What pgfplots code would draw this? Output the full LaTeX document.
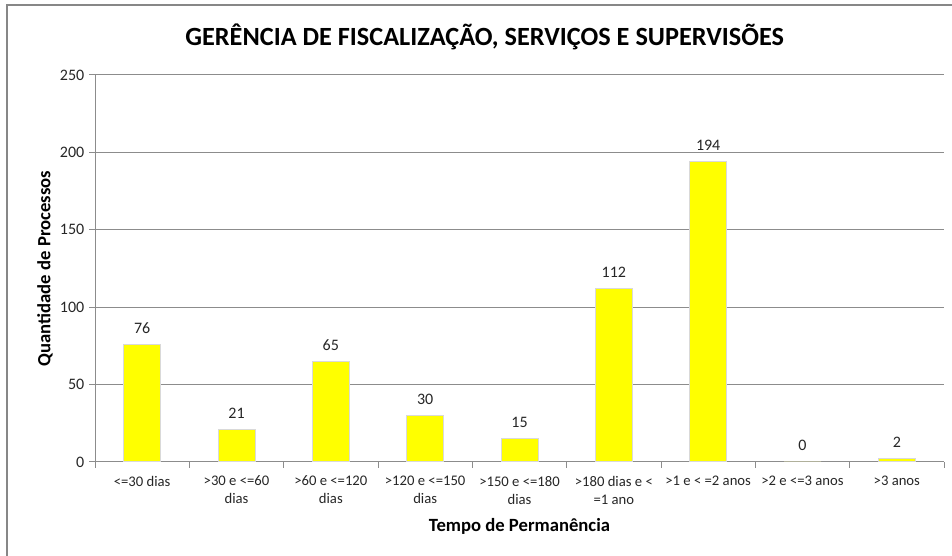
\documentclass[border=0pt]{standalone}
\usepackage{pgfplots}
\pgfplotsset{compat=1.18}
\usepackage{fontspec}
\setmainfont{Carlito}
\definecolor{gridgray}{HTML}{8C8C8C}
\definecolor{framegray}{HTML}{878787}
\definecolor{baryellow}{HTML}{FFFF00}
\begin{document}
\begin{tikzpicture}
\useasboundingbox (0,0) rectangle (714pt,417pt);
\draw[framegray, line width=1.5pt] (5pt,0pt) -- (5pt,413.25pt) -- (714pt,413.25pt);
\begin{axis}[
  at={(71.25pt,70.5pt)}, anchor=south west,
  scale only axis, width=636.75pt, height=290.25pt,
  xmin=-0.5, xmax=8.5, ymin=0, ymax=250,
  ytick={0,50,100,150,200,250},
  xtick={0,...,8},
  xticklabels={{<=30 dias},{>30 e <=60\\dias},{>60 e <=120\\dias},{>120 e <=150\\dias},{>150 e <=180\\dias},{>180 dias e <\\=1 ano},{>1 e < =2 anos},{>2 e <=3 anos},{>3 anos}},
  xticklabel style={align=center, font=\fontsize{11pt}{13.5pt}\selectfont, text=black!85, yshift=-2.5pt},
  yticklabel style={font=\fontsize{12pt}{14pt}\selectfont, text=black!85},
  /pgf/number format/assume math mode=true,
  minor xtick={-0.5,0.5,...,8.5},
  major x tick style={draw=none},
  tick align=outside,
  major tick length=4.5pt, minor tick length=4.5pt,
  every tick/.style={gridgray, line width=0.75pt},
  ymajorgrids,
  grid style={gridgray, line width=0.75pt},
  axis x line*=bottom, axis y line*=left,
  axis line style={gridgray, line width=0.75pt, -},
  ytick pos=left,
  title={GERÊNCIA DE FISCALIZAÇÃO, SERVIÇOS E SUPERVISÕES},
  title style={at={(axis description cs:0.459,1.0775)}, anchor=center, font=\fontsize{19.7pt}{23pt}\selectfont\bfseries},
  xlabel={Tempo de Permanência},
  ylabel={Quantidade de Processos},
  every axis x label/.style={at={(axis description cs:0.5,-0.166)}, anchor=center, font=\fontsize{14pt}{16pt}\selectfont\bfseries},
  every axis y label/.style={at={(axis description cs:-0.0589,0.5)}, rotate=90, anchor=center, font=\fontsize{14pt}{16pt}\selectfont\bfseries},
  nodes near coords,
  every node near coord/.append style={font=\fontsize{12pt}{14pt}\selectfont, text=black!85, anchor=south, yshift=4.5pt},
]
\addplot[ybar, bar width=27.75pt, fill=baryellow, draw=black!15, line width=0.75pt]
  coordinates {(0,76) (1,21) (2,65) (3,30) (4,15) (5,112) (6,194) (7,0) (8,2)};
\end{axis}
\end{tikzpicture}
\end{document}
